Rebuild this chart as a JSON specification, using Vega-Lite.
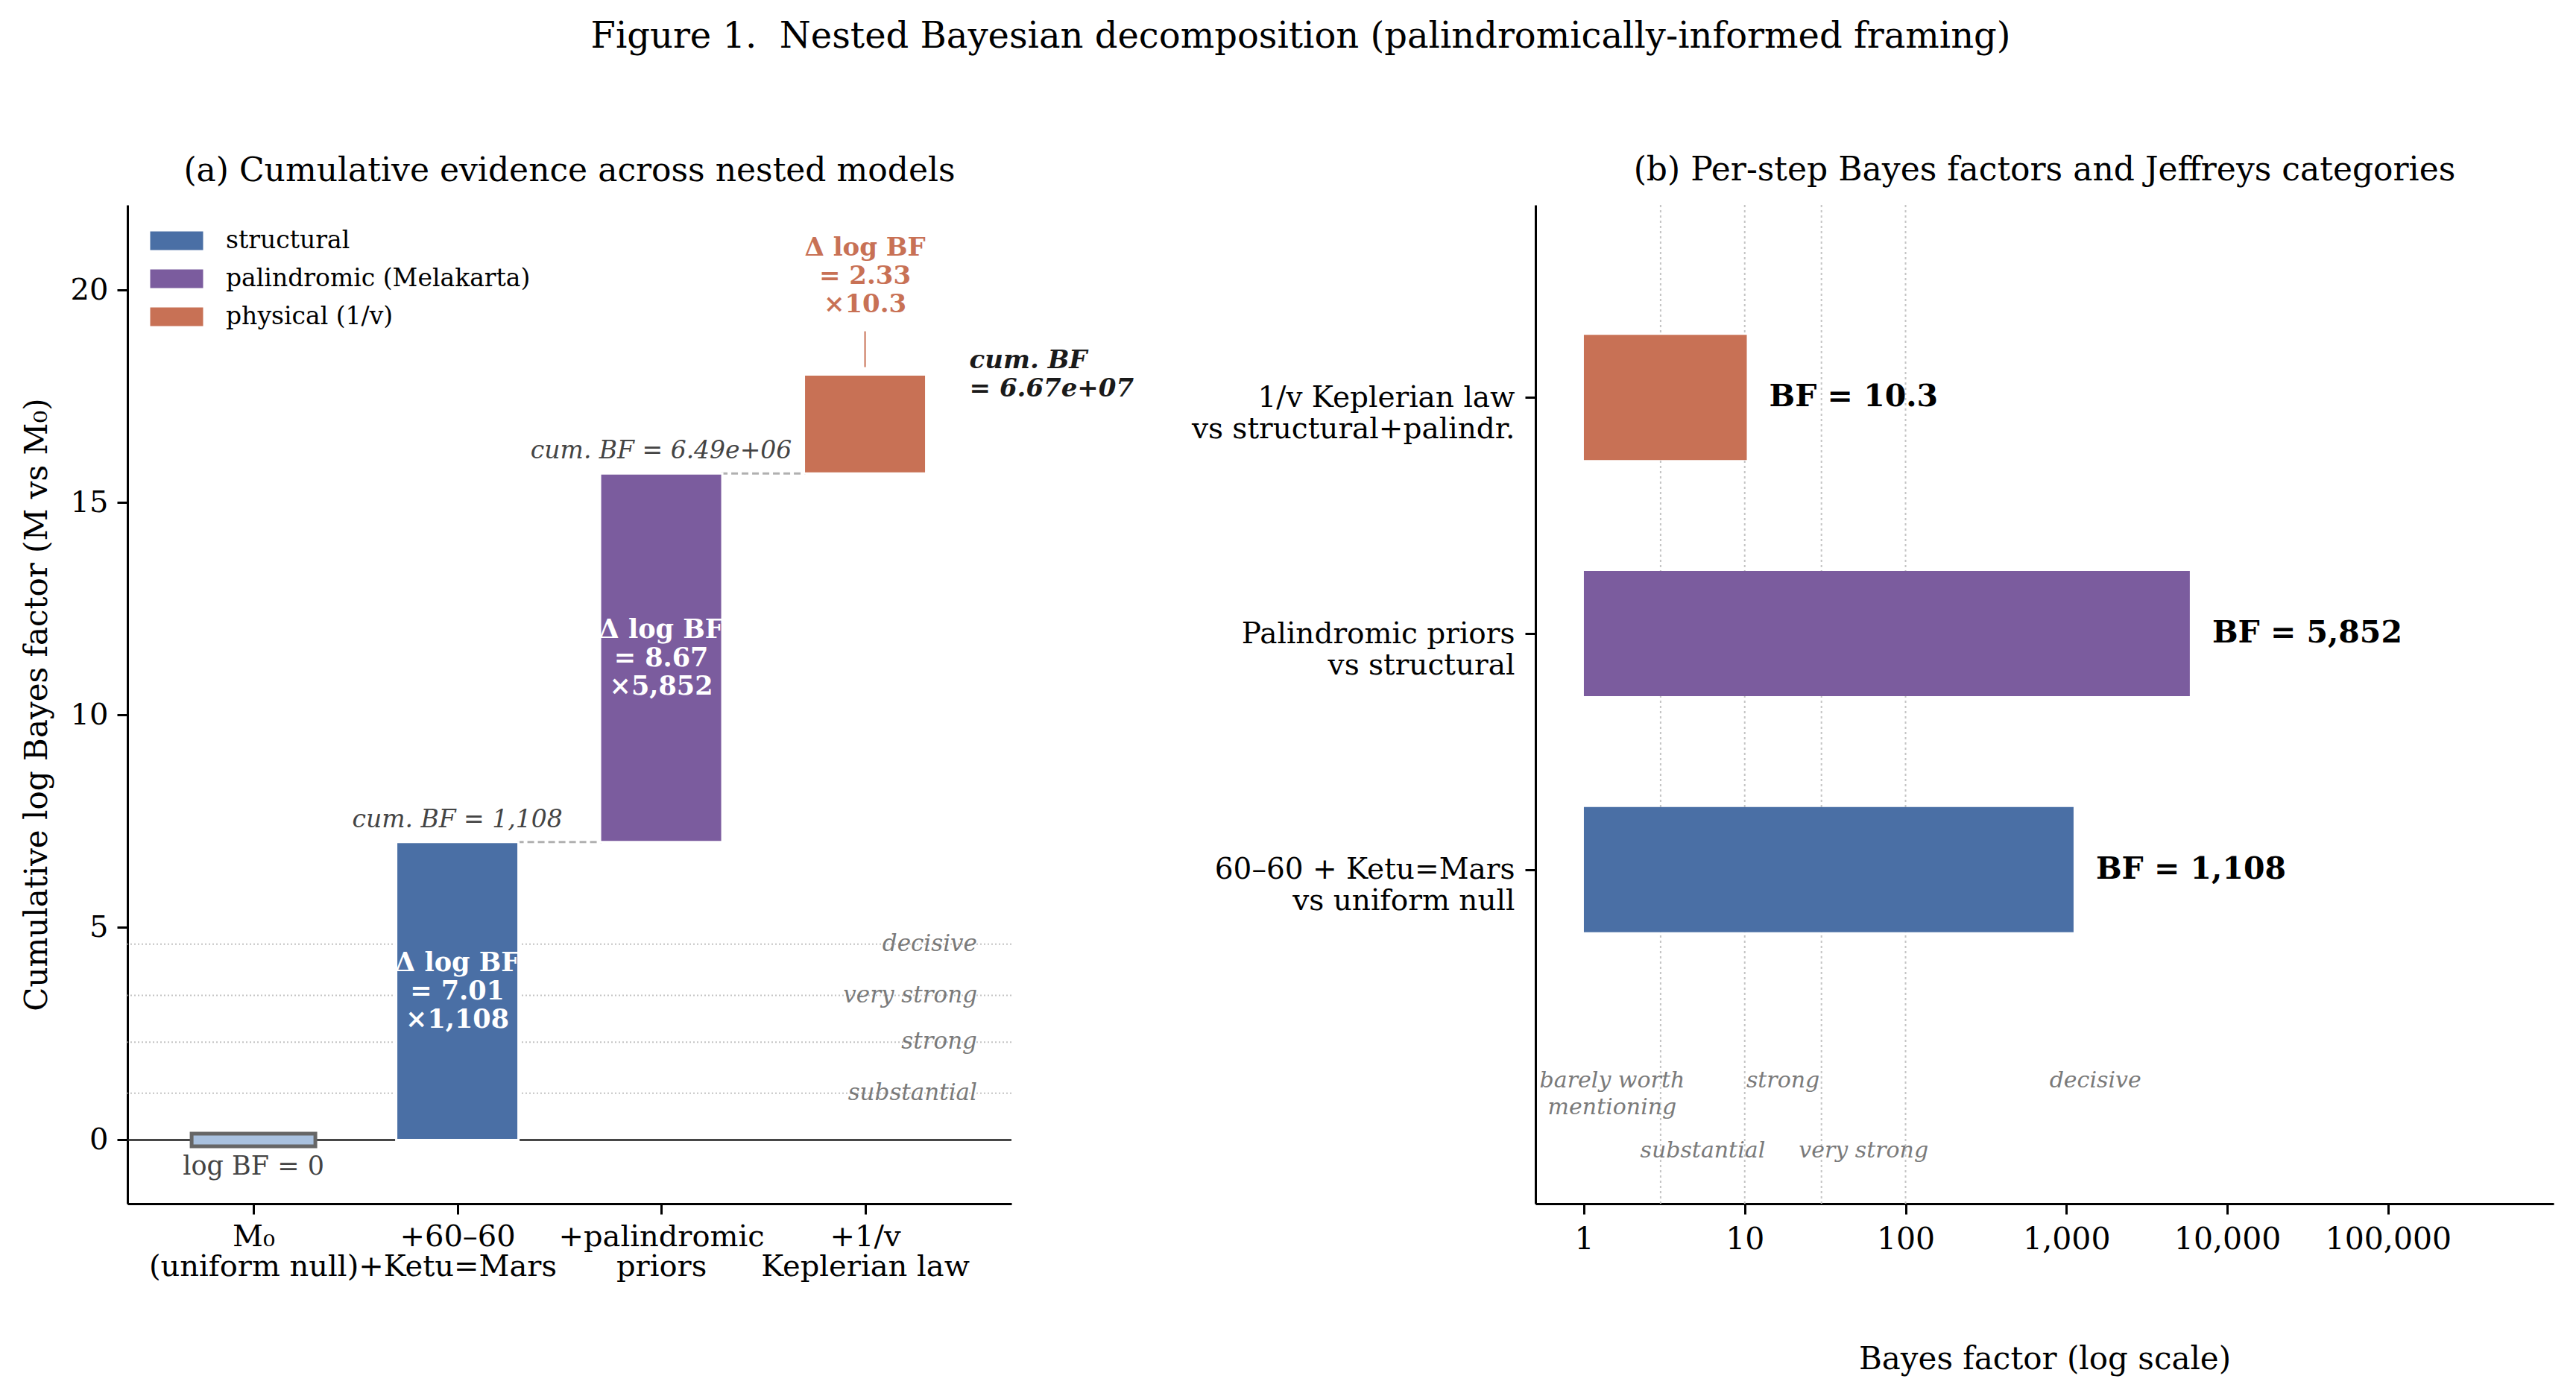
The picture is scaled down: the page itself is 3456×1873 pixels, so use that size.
{
  "$schema": "https://vega.github.io/schema/vega-lite/v6.json",
  "background": "white",
  "padding": {"left": 28, "top": 26, "right": 10, "bottom": 10},
  "title": {"text": "Figure 1.\u00a0 Nested Bayesian decomposition (palindromically-informed framing)", "font": "DejaVu Serif", "fontSize": 48, "fontWeight": "normal", "color": "black", "anchor": "middle", "offset": 133, "dx": 18},
  "config": {
    "view": {"stroke": null},
    "font": "DejaVu Serif",
    "axis": {"labelFont": "DejaVu Serif", "titleFont": "DejaVu Serif", "labelColor": "black", "titleColor": "black", "domainColor": "black", "tickColor": "black", "domainWidth": 3, "tickWidth": 3, "tickSize": 14, "grid": false, "labelFontSize": 40, "titleFontSize": 42, "titleFontWeight": "normal", "labelPadding": 12, "labelLimit": 1000, "labelOverlap": false},
    "title": {"font": "DejaVu Serif", "fontWeight": "normal", "fontSize": 44, "color": "black"}
  },
  "datasets": {
    "steps": [
      {"x": 1, "lo": 0, "hi": 7.01, "group": "structural", "cum": "cum. BF = 1,108", "inner": "Δ log BF\n= 7.01\n×1,108"},
      {"x": 2, "lo": 7.01, "hi": 15.68, "group": "palindromic (Melakarta)", "cum": "cum. BF = 6.49e+06", "inner": "Δ log BF\n= 8.67\n×5,852"},
      {"x": 3, "lo": 15.68, "hi": 18.01, "group": "physical (1/v)", "cum": "cum. BF\n= 6.67e+07", "inner": "Δ log BF\n= 2.33\n×10.3"}
    ],
    "base": [{"x": 0, "lo": -0.15, "hi": 0.15, "lab": "log BF = 0"}],
    "links": [{"x": 1, "xn": 2, "y": 7.01}, {"x": 2, "xn": 3, "y": 15.68}],
    "jeffL": [
      {"v": 1.0986, "lab": "substantial"},
      {"v": 2.3026, "lab": "strong"},
      {"v": 3.4012, "lab": "very strong"},
      {"v": 4.6052, "lab": "decisive"}
    ],
    "perstep": [
      {"idx": 0, "bf": 1108, "group": "structural", "txt": "BF = 1,108"},
      {"idx": 1, "bf": 5852, "group": "palindromic (Melakarta)", "txt": "BF = 5,852"},
      {"idx": 2, "bf": 10.3, "group": "physical (1/v)", "txt": "BF = 10.3"}
    ],
    "jeffR": [
      {"t": "barely worth\nmentioning", "x": 1.5, "y": -0.894},
      {"t": "substantial", "x": 5.48, "y": -1.19},
      {"t": "strong", "x": 17.3, "y": -0.894},
      {"t": "very strong", "x": 54.8, "y": -1.19},
      {"t": "decisive", "x": 1514, "y": -0.894}
    ],
    "jeffRlines": [{"v": 3}, {"v": 10}, {"v": 30}, {"v": 100}]
  },
  "spacing": 703,
  "bounds": "flush",
  "resolve": {"scale": {"color": "independent"}, "legend": {"color": "independent"}},
  "hconcat": [
    {
      "width": 1186,
      "height": 1340,
      "title": {"text": "(a) Cumulative evidence across nested models", "offset": 23},
      "layer": [
        {
          "data": {"name": "jeffL"},
          "mark": {"type": "rule", "color": "#c4c4c4", "strokeWidth": 2, "strokeDash": [2, 3]},
          "encoding": {
            "y": {"field": "v", "type": "quantitative", "scale": {"domain": [-1.5, 22], "nice": false, "zero": false},
              "axis": {"values": [0, 5, 10, 15, 20], "format": "d", "title": "Cumulative log Bayes factor (M vs M₀)", "titlePadding": 23}}
          }
        },
        {
          "data": {"name": "jeffL"},
          "mark": {"type": "text", "align": "right", "baseline": "middle", "fontStyle": "italic", "fontSize": 31, "color": "#7a7a7a"},
          "encoding": {
            "x": {"datum": 3.55, "type": "quantitative"},
            "y": {"field": "v", "type": "quantitative"},
            "text": {"field": "lab"}
          }
        },
        {
          "data": {"values": [{"z": 0}]},
          "mark": {"type": "rule", "color": "#222222", "strokeWidth": 2.5},
          "encoding": {"y": {"field": "z", "type": "quantitative"}}
        },
        {
          "data": {"name": "links"},
          "mark": {"type": "rule", "color": "#b0b0b0", "strokeWidth": 3, "strokeDash": [9, 5], "xOffset": 80, "x2Offset": -80},
          "encoding": {
            "x": {"field": "x", "type": "quantitative"},
            "x2": {"field": "xn"},
            "y": {"field": "y", "type": "quantitative"}
          }
        },
        {
          "data": {"name": "base"},
          "mark": {"type": "bar", "width": 166, "fill": "#a9c1df", "stroke": "#666666", "strokeWidth": 5},
          "encoding": {
            "x": {"field": "x", "type": "quantitative"},
            "y": {"field": "lo", "type": "quantitative"},
            "y2": {"field": "hi"}
          }
        },
        {
          "data": {"name": "base"},
          "mark": {"type": "text", "baseline": "middle", "fontSize": 35, "color": "#444444"},
          "encoding": {
            "x": {"field": "x", "type": "quantitative"},
            "y": {"datum": -0.62, "type": "quantitative"},
            "text": {"field": "lab"}
          }
        },
        {
          "data": {"name": "steps"},
          "mark": {"type": "bar", "width": 164, "stroke": "white", "strokeWidth": 3},
          "encoding": {
            "x": {"field": "x", "type": "quantitative", "scale": {"domain": [-0.6, 3.7], "nice": false, "zero": false},
              "axis": {"values": [0, 1, 2, 3], "title": null, "labelLineHeight": 40, "labelPadding": 10,
                "labelExpr": "datum.value == 0 ? ['M₀', '(uniform null)'] : datum.value == 1 ? ['+60–60', '+Ketu=Mars'] : datum.value == 2 ? ['+palindromic', 'priors'] : ['+1/v', 'Keplerian law']"}},
            "y": {"field": "lo", "type": "quantitative"},
            "y2": {"field": "hi"},
            "color": {"field": "group", "type": "nominal",
              "scale": {"domain": ["structural", "palindromic (Melakarta)", "physical (1/v)"], "range": ["#4a6fa5", "#7b5c9e", "#c87155"]},
              "legend": {"title": null, "orient": "none", "legendX": 48, "legendY": 30, "labelFont": "DejaVu Serif", "labelFontSize": 33, "labelColor": "black", "labelLimit": 1000,
                "symbolType": "M-2,-0.7H2V0.7H-2Z", "symbolSize": 1260, "symbolStrokeWidth": 0, "labelOffset": 48, "rowPadding": 16}}
          }
        },
        {
          "data": {"name": "steps"},
          "transform": [{"filter": "datum.x < 3"}],
          "mark": {"type": "text", "baseline": "alphabetic", "fontStyle": "italic", "fontSize": 33, "color": "#444444", "dy": -20},
          "encoding": {
            "x": {"field": "x", "type": "quantitative"},
            "y": {"field": "hi", "type": "quantitative"},
            "text": {"field": "cum"}
          }
        },
        {
          "data": {"name": "steps"},
          "transform": [{"filter": "datum.x < 3"}, {"calculate": "(datum.lo + datum.hi) / 2", "as": "mid"}],
          "mark": {"type": "text", "baseline": "middle", "fontWeight": "bold", "fontSize": 35, "color": "white", "lineBreak": "\n", "lineHeight": 38, "dy": -38},
          "encoding": {
            "x": {"field": "x", "type": "quantitative"},
            "y": {"field": "mid", "type": "quantitative"},
            "text": {"field": "inner"}
          }
        },
        {
          "data": {"name": "steps"},
          "transform": [{"filter": "datum.x == 3"}],
          "mark": {"type": "text", "baseline": "bottom", "fontWeight": "bold", "fontSize": 34, "color": "#c87155", "lineBreak": "\n", "lineHeight": 38, "dy": -153},
          "encoding": {
            "x": {"field": "x", "type": "quantitative"},
            "y": {"field": "hi", "type": "quantitative"},
            "text": {"field": "inner"}
          }
        },
        {
          "data": {"name": "steps"},
          "transform": [{"filter": "datum.x == 3"}],
          "mark": {"type": "rule", "color": "#c87155", "strokeWidth": 2, "yOffset": -10, "y2Offset": -58},
          "encoding": {
            "x": {"field": "x", "type": "quantitative"},
            "y": {"field": "hi", "type": "quantitative"},
            "y2": {"field": "hi"}
          }
        },
        {
          "data": {"name": "steps"},
          "transform": [{"filter": "datum.x == 3"}],
          "mark": {"type": "text", "align": "left", "baseline": "middle", "fontWeight": "bold", "fontStyle": "italic", "fontSize": 34, "color": "#1a1a1a", "lineBreak": "\n", "lineHeight": 38, "dx": 140, "dy": -19},
          "encoding": {
            "x": {"field": "x", "type": "quantitative"},
            "y": {"field": "hi", "type": "quantitative"},
            "text": {"field": "cum"}
          }
        }
      ]
    },
    {
      "width": 1366,
      "height": 1340,
      "title": {"text": "(b) Per-step Bayes factors and Jeffreys categories", "offset": 23},
      "layer": [
        {
          "data": {"name": "jeffRlines"},
          "mark": {"type": "rule", "color": "#c4c4c4", "strokeWidth": 2, "strokeDash": [3, 4]},
          "encoding": {
            "x": {"field": "v", "type": "quantitative", "scale": {"type": "log", "domain": [0.5, 1070000], "nice": false},
              "axis": {"values": [1, 10, 100, 1000, 10000, 100000], "format": ",d", "title": "Bayes factor (log scale)", "titlePadding": 120, "labelPadding": 14, "labelFontSize": 41}}
          }
        },
        {
          "data": {"name": "perstep"},
          "mark": {"type": "bar", "orient": "horizontal", "height": 168},
          "encoding": {
            "x": {"field": "bf", "type": "quantitative"},
            "x2": {"datum": 1},
            "y": {"field": "idx", "type": "quantitative", "scale": {"domain": [-1.4, 2.8], "nice": false, "zero": false},
              "axis": {"values": [0, 1, 2], "title": null, "labelFontSize": 39, "labelLineHeight": 42, "labelPadding": 14,
                "labelExpr": "datum.value == 0 ? ['60–60 + Ketu=Mars', 'vs uniform null'] : datum.value == 1 ? ['Palindromic priors', 'vs structural'] : ['1/v Keplerian law', 'vs structural+palindr.']"}},
            "color": {"field": "group", "type": "nominal",
              "scale": {"domain": ["structural", "palindromic (Melakarta)", "physical (1/v)"], "range": ["#4a6fa5", "#7b5c9e", "#c87155"]},
              "legend": null}
          }
        },
        {
          "data": {"name": "perstep"},
          "mark": {"type": "text", "align": "left", "baseline": "middle", "fontWeight": "bold", "fontSize": 41, "color": "black", "dx": 30},
          "encoding": {
            "x": {"field": "bf", "type": "quantitative"},
            "y": {"field": "idx", "type": "quantitative"},
            "text": {"field": "txt"}
          }
        },
        {
          "data": {"name": "jeffR"},
          "mark": {"type": "text", "align": "center", "baseline": "middle", "fontStyle": "italic", "fontSize": 30, "color": "#7a7a7a", "lineBreak": "\n", "lineHeight": 36},
          "encoding": {
            "x": {"field": "x", "type": "quantitative"},
            "y": {"field": "y", "type": "quantitative"},
            "text": {"field": "t"}
          }
        }
      ]
    }
  ]
}
